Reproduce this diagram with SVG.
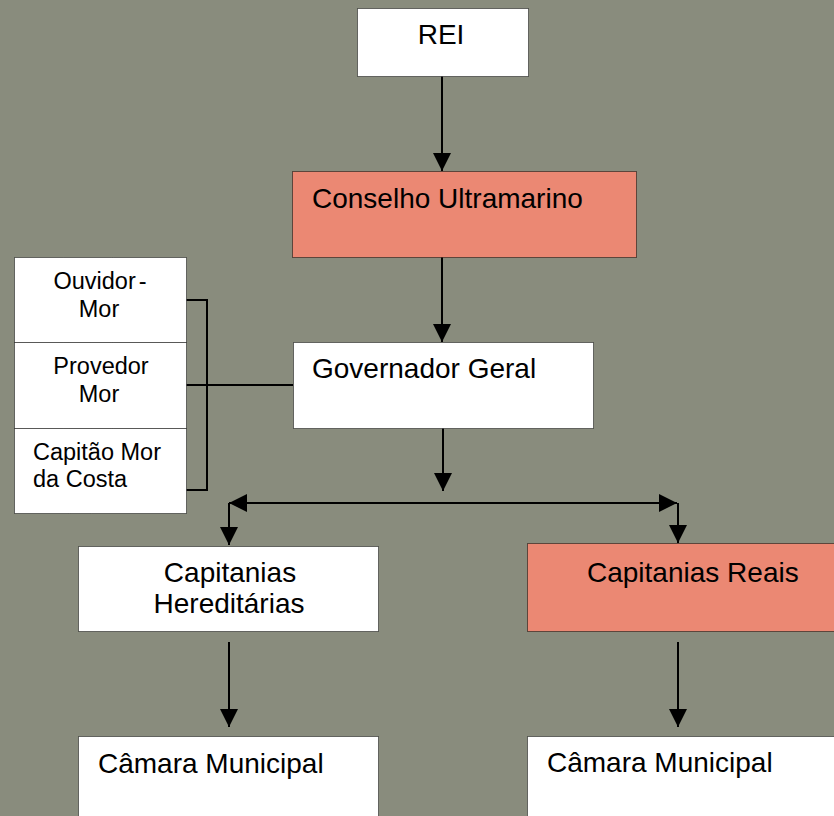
<svg xmlns="http://www.w3.org/2000/svg" width="834" height="816" viewBox="0 0 834 816">
<defs>
<marker id="ah" viewBox="0 0 18 18" refX="18" refY="9" markerWidth="18" markerHeight="18" markerUnits="userSpaceOnUse" orient="auto-start-reverse">
<path d="M0,0 L18,9 L0,18 z" fill="#000"/>
</marker>
<style>
.box{fill:#fff;stroke:#000;stroke-width:1;stroke-dasharray:1 1}
.red{fill:#eb8873;stroke:#000;stroke-width:1;stroke-dasharray:1 1}
.t{font-family:"Liberation Sans",Arial,sans-serif;font-size:28px;fill:#000}
.s{font-family:"Liberation Sans",Arial,sans-serif;font-size:23.5px;fill:#000}
.c{text-anchor:middle}
.ln{stroke:#000;stroke-width:2;fill:none}
.ar{stroke:#000;stroke-width:2;fill:none;marker-end:url(#ah)}
</style>
</defs>
<rect width="834" height="816" fill="#898c7d"/>
<g id="connectors">
<line class="ar" x1="442" y1="65" x2="442" y2="171"/>
<line class="ar" x1="442" y1="257" x2="442" y2="342"/>
<line class="ar" x1="443" y1="428" x2="443" y2="491"/>
<line class="ar" x1="229" y1="503" x2="677" y2="503" style="marker-start:url(#ah)"/>
<polyline class="ar" points="229,503 229,545"/>
<polyline class="ar" points="678,503 678,543"/>
<line class="ar" x1="229" y1="642" x2="229" y2="727"/>
<line class="ar" x1="678" y1="642" x2="678" y2="727"/>
<polyline class="ln" points="186,300 207,300 207,490 186,490"/>
<line class="ln" x1="186" y1="385" x2="293" y2="385"/>
</g>
<g id="rei">
<rect class="box" x="357.5" y="8.5" width="171" height="68"/>
<text class="t c" x="441" y="44">REI</text>
</g>
<g id="conselho">
<rect class="red" x="292.5" y="171.5" width="344" height="86"/>
<text class="t" x="312" y="208">Conselho Ultramarino</text>
</g>
<g id="governador">
<rect class="box" x="293.5" y="342.5" width="300" height="86"/>
<text class="t" x="312" y="378">Governador Geral</text>
</g>
<g id="ouvidor">
<rect class="box" x="14.5" y="257.5" width="172" height="85"/>
<text class="s c" x="100" y="289">Ouvidor<tspan dx="3">-</tspan></text>
<text class="s c" x="99" y="317">Mor</text>
</g>
<g id="provedor">
<rect class="box" x="14.5" y="342.5" width="172" height="86"/>
<text class="s c" x="101" y="374">Provedor</text>
<text class="s c" x="99" y="402">Mor</text>
</g>
<g id="capitao">
<rect class="box" x="14.5" y="428.5" width="172" height="85"/>
<text class="s" x="33" y="460">Capitão Mor</text>
<text class="s" x="33" y="487">da Costa</text>
</g>
<g id="hereditarias">
<rect class="box" x="78.5" y="546.5" width="300" height="85"/>
<text class="t c" x="230" y="582">Capitanias</text>
<text class="t c" x="229" y="613">Hereditárias</text>
</g>
<g id="reais">
<rect class="red" x="527.5" y="543.5" width="310" height="88"/>
<text class="t" x="587" y="582">Capitanias Reais</text>
</g>
<g id="camara1">
<rect class="box" x="78.5" y="736.5" width="300" height="90"/>
<text class="t" x="98" y="773">Câmara Municipal</text>
</g>
<g id="camara2">
<rect class="box" x="527.5" y="736.5" width="310" height="90"/>
<text class="t" x="547" y="772">Câmara Municipal</text>
</g>
</svg>
